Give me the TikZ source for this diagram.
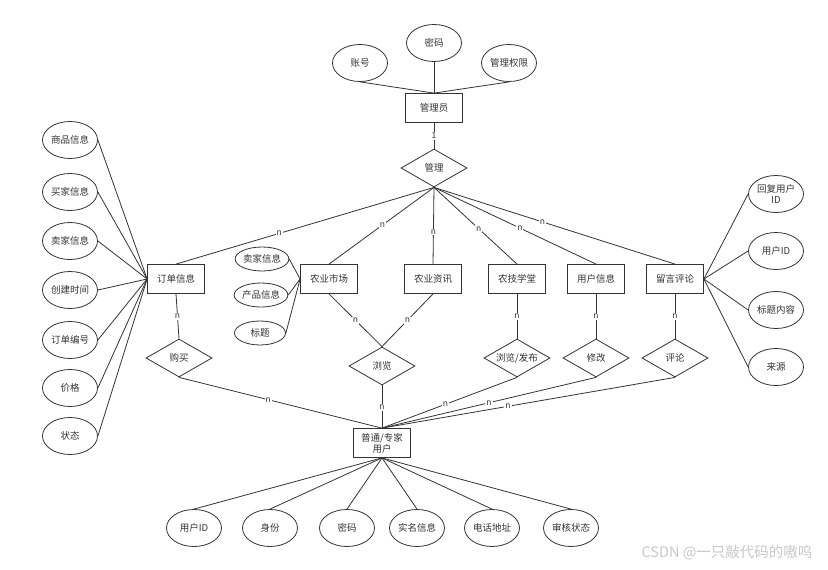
\documentclass[tikz,border=0pt]{standalone}
\usepackage{fontspec}
\newfontfamily\cjk{Noto Sans CJK SC}
\usetikzlibrary{shapes.geometric}
\definecolor{lc}{HTML}{333333}
\definecolor{tc}{HTML}{333333}
\definecolor{wm}{HTML}{C8C8C8}
\begin{document}
\begin{tikzpicture}[x=1pt,y=-1pt,
  ent/.style={draw=lc, line width=0.8pt, minimum width=57pt, minimum height=29pt, inner sep=1pt, font=\cjk\fontsize{9.5}{11}\selectfont, text=tc, align=center, fill=white},
  attr/.style={ellipse, draw=lc, line width=0.8pt, minimum width=55pt, minimum height=37pt, inner sep=0pt, font=\cjk\fontsize{9.5}{11}\selectfont, text=tc, align=center},
  sattr/.style={attr, minimum width=51pt, minimum height=24pt},
  rel/.style={diamond, draw=lc, line width=0.8pt, aspect=1.74, minimum width=66pt, minimum height=38pt, inner sep=0pt, font=\cjk\fontsize{9.5}{11}\selectfont, text=tc},
  conn/.style={draw=lc, line width=0.8pt},
  card/.style={fill=white, inner sep=1pt, font=\cjk\fontsize{8.5}{9}\selectfont, text=tc}
]
\useasboundingbox (0,0) rectangle (828,570);

% admin
\node[ent] (admin) at (434,108) {管理员};
\node[attr] (acc) at (360,63) {账号};
\node[attr] (apw) at (434,43) {密码};
\node[attr] (aperm) at (509,63) {管理权限};
\draw[conn] (acc.south) -- (admin.north);
\draw[conn] (apw.south) -- (admin.north);
\draw[conn] (aperm.south) -- (admin.north);

\node[rel] (mg) at (434,168) {管理};
\draw[conn] (admin) -- node[card]{1} (mg);

% entities row
\node[ent] (order) at (176,279) {订单信息};
\node[ent] (mkt) at (329,279) {农业市场};
\node[ent] (news) at (433,279) {农业资讯};
\node[ent] (tech) at (517,279) {农技学堂};
\node[ent] (uinfo) at (596,279) {用户信息};
\node[ent] (msg) at (675,279) {留言评论};

\draw[conn] (mg.south) -- node[card,pos=0.6]{n} (order.north);
\draw[conn] (mg.south) -- node[card,pos=0.49]{n} (mkt.north);
\draw[conn] (mg.south) -- node[card,pos=0.58]{n} (news.north);
\draw[conn] (mg.south) -- node[card,pos=0.54]{n} (tech.north);
\draw[conn] (mg.south) -- node[card,pos=0.53]{n} (uinfo.north);
\draw[conn] (mg.south) -- node[card,pos=0.45]{n} (msg.north);

% order attributes
\node[attr] (o1) at (70,140) {商品信息};
\node[attr] (o2) at (70,192) {买家信息};
\node[attr] (o3) at (70,241) {卖家信息};
\node[attr] (o4) at (70,290) {创建时间};
\node[attr] (o5) at (70,340) {订单编号};
\node[attr] (o6) at (70,388) {价格};
\node[attr] (o7) at (70,436) {状态};
\foreach \i in {1,...,7} \draw[conn] (o\i.east) -- (order.west);

% market attributes
\node[sattr] (m1) at (262,259) {卖家信息};
\node[sattr] (m2) at (261,295) {产品信息};
\node[sattr] (m3) at (260,333) {标题};
\foreach \i in {1,2,3} \draw[conn] (m\i.east) -- (mkt.west);

% message attributes
\node[attr] (r1) at (776,194) {回复用户\\ID};
\node[attr] (r2) at (776,251) {用户ID};
\node[attr] (r3) at (776,310) {标题内容};
\node[attr] (r4) at (776,367) {来源};
\foreach \i in {1,...,4} \draw[conn] (r\i.west) -- (msg.east);

% relationships
\node[rel] (buy) at (179,358) {购买};
\node[rel] (browse) at (382,366) {浏览};
\node[rel] (pub) at (517,358) {浏览/发布};
\node[rel] (mod) at (596,358) {修改};
\node[rel] (cmt) at (675,358) {评论};

\draw[conn] (order.south) -- node[card]{n} (buy.north);
\draw[conn] (mkt.south) -- node[card]{n} (browse.north);
\draw[conn] (news.south) -- node[card]{n} (browse.north);
\draw[conn] (tech.south) -- node[card]{n} (pub.north);
\draw[conn] (uinfo.south) -- node[card]{n} (mod.north);
\draw[conn] (msg.south) -- node[card]{n} (cmt.north);

% user
\node[ent, inner sep=2pt] (user) at (382,443) {普通/专家\\用户};
\draw[conn] (buy.south) -- node[card,pos=0.44]{n} (user.north);
\draw[conn] (browse.south) -- node[card,pos=0.52]{n} (user.north);
\draw[conn] (pub.south) -- node[card,pos=0.53]{n} (user.north);
\draw[conn] (mod.south) -- node[card,pos=0.5]{n} (user.north);
\draw[conn] (cmt.south) -- node[card,pos=0.57]{n} (user.north);

% user attributes
\node[attr] (u1) at (194,528) {用户ID};
\node[attr] (u2) at (270,528) {身份};
\node[attr] (u3) at (347,528) {密码};
\node[attr] (u4) at (417,528) {实名信息};
\node[attr] (u5) at (492,528) {电话地址};
\node[attr] (u6) at (571,528) {审核状态};
\foreach \i in {1,...,6} \draw[conn] (user.south) -- (u\i.north);

% watermark
\node[font=\cjk\fontsize{14.5}{16}\selectfont, text=wm, inner sep=0pt] (wmk) at (727,553) {CSDN @一只敲代码的嗷呜};
\end{tikzpicture}
\end{document}
